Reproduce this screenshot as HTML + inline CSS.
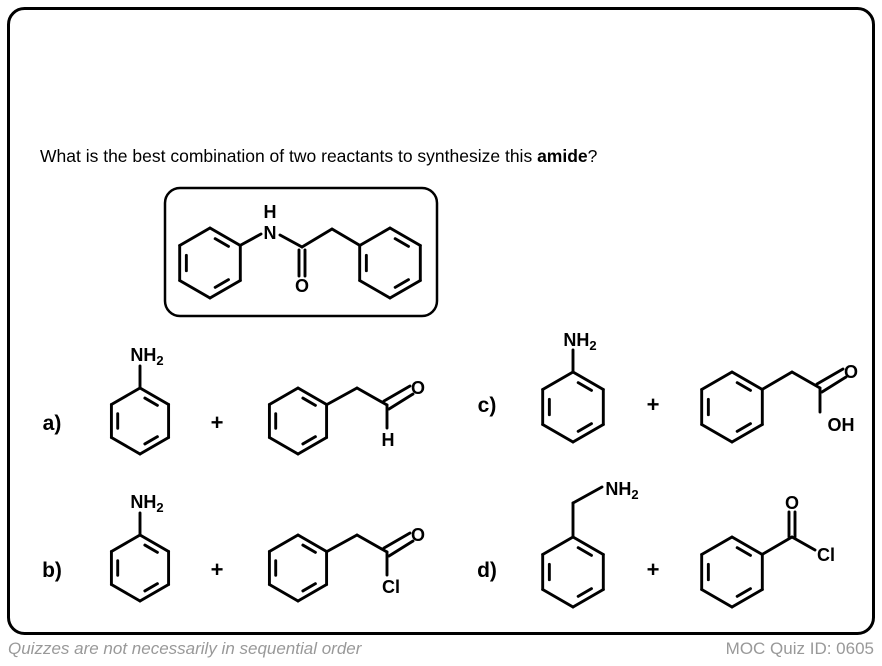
<!DOCTYPE html>
<html><head><meta charset="utf-8"><style>
body{margin:0;background:#fff;}
svg{display:block;font-family:"Liberation Sans",Arial,sans-serif;}
</style></head><body>
<svg id="s" width="882" height="666" viewBox="0 0 882 666" xmlns="http://www.w3.org/2000/svg">
<rect x="8.5" y="8.5" width="865" height="625" rx="16" fill="none" stroke="#000" stroke-width="3"/>
<text x="40" y="162" font-size="17.5">What is the best combination of two reactants to synthesize this <tspan font-weight="bold">amide</tspan>?</text>
<rect x="165" y="188" width="272" height="128" rx="15" fill="none" stroke="#000" stroke-width="2.5"/>
<g id="g" stroke="#000" stroke-width="2.9" fill="none" stroke-linecap="round" stroke-linejoin="round"></g>
<g font-weight="bold" font-size="18" text-anchor="middle">
<text x="270" y="218">H</text><text x="270" y="239">N</text><text x="302" y="292">O</text>
<text x="147" y="361">NH<tspan font-size="13" dy="4">2</tspan></text>
<text x="147" y="508">NH<tspan font-size="13" dy="4">2</tspan></text>
<text x="580" y="346">NH<tspan font-size="13" dy="4">2</tspan></text>
<text x="622" y="495">NH<tspan font-size="13" dy="4">2</tspan></text>
<text x="418" y="394">O</text><text x="388" y="446">H</text>
<text x="418" y="541">O</text><text x="391" y="593">Cl</text>
<text x="851" y="378">O</text><text x="841" y="431">OH</text>
<text x="792" y="509">O</text><text x="826" y="561">Cl</text>
<text x="217" y="430" font-size="22">+</text><text x="217" y="577" font-size="22">+</text>
<text x="653" y="412" font-size="22">+</text><text x="653" y="577" font-size="22">+</text>
<text x="52" y="430" font-size="21">a)</text><text x="52" y="577" font-size="21">b)</text>
<text x="487" y="412" font-size="21">c)</text><text x="487" y="577" font-size="21">d)</text>
</g>
<text x="8" y="654" font-size="17" font-style="italic" fill="#999">Quizzes are not necessarily in sequential order</text>
<text x="874" y="654" font-size="17" fill="#999" text-anchor="end">MOC Quiz ID: 0605</text>
</svg>
<script>
var d="";
function L(a,b,c,e){d+='<line x1="'+a+'" y1="'+b+'" x2="'+c+'" y2="'+e+'"/>';}
function ring(cx,cy,r){var p=[];for(var i=0;i<6;i++){var t=(-90+60*i)*Math.PI/180;p.push([cx+r*Math.cos(t),cy+r*Math.sin(t)]);}
for(var i=0;i<6;i++){var a=p[i],b=p[(i+1)%6];L(a[0],a[1],b[0],b[1]);}
[0,2,4].forEach(function(i){var a=p[i],b=p[(i+1)%6];var f=0.78,s=0.17;
var ax=a[0]+(cx-a[0])*(1-f)+(b[0]-a[0])*s,ay=a[1]+(cy-a[1])*(1-f)+(b[1]-a[1])*s;
var bx=b[0]+(cx-b[0])*(1-f)+(a[0]-b[0])*s,by=b[1]+(cy-b[1])*(1-f)+(a[1]-b[1])*s;L(ax,ay,bx,by);});}
ring(210,263,35);ring(390,263,35);
L(240,245.5,261,234);L(280,235,302,247);L(302,247,332,229);L(332,229,360,245.5);
L(299,250,299,276);L(305,250,305,276);
ring(140,421,33);L(140,388,140,366);
ring(298,421,33);L(327,404.5,357,388);L(357,388,387,405);L(384,401,410,386);L(389,409,413,394);L(387,405,387,428);
ring(140,568,33);L(140,535,140,513);
ring(298,568,33);L(327,551.5,357,535);L(357,535,387,552);L(384,548,410,533);L(389,556,413,541);L(387,552,387,575);
ring(573,407,35);L(573,372,573,350);
ring(732,407,35);L(762,389.5,792,372);L(792,372,820,388);L(817,384,843,369);L(822,392,846,377);L(820,388,820,412);
ring(573,572,35);L(573,537,573,503);L(573,503,602,487);
ring(732,572,35);L(762,554.5,792,537);L(789,537,789,512);L(795,537,795,512);L(792,537,815,550);
document.getElementById('g').innerHTML=d;
</script>
</body></html>
